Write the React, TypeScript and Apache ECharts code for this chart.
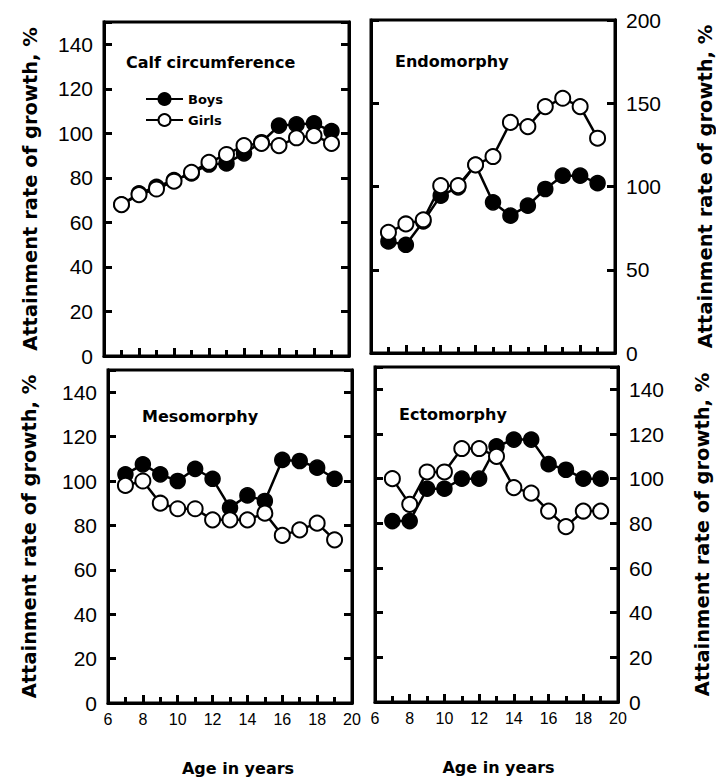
import React, { useEffect, useRef } from "react";
import * as echarts from "echarts";

const ages = [7, 8, 9, 10, 11, 12, 13, 14, 15, 16, 17, 18, 19];

const panelTitles = ["Calf circumference", "Endomorphy", "Mesomorphy", "Ectomorphy"];
const seriesNames = ["Boys", "Girls"];

const calfBoys = [68, 73, 76, 79, 82, 86, 86.5, 91, 96, 103.5, 104, 104.5, 101];
const calfGirls = [68, 72.5, 75, 78.5, 82.5, 87, 90.5, 94.5, 95.5, 94.5, 98, 99, 95.5];
const endoBoys = [67, 65, 79, 94.5, 99.5, 113, 90.5, 82.5, 88.5, 98.5, 106.5, 106.5, 102];
const endoGirls = [72.5, 77.5, 80, 100.5, 100.5, 113, 118, 138.5, 136, 148, 153, 148, 129];
const mesoBoys = [103, 107.5, 103, 100, 105.5, 101, 88, 93.5, 91, 109.5, 109, 106, 101];
const mesoGirls = [98, 100, 90, 87.5, 87.5, 82.5, 82.5, 82.5, 85.5, 75.5, 78, 81, 73.5];
const ectoBoys = [81, 81, 95.5, 95.5, 100, 100, 114.5, 117.5, 117.5, 106.5, 104, 100, 100];
const ectoGirls = [100, 88.5, 103, 103, 113.5, 113.5, 110, 96, 93.5, 85.5, 78.5, 85.5, 85.5];

const xTicks = { min: 6, max: 20, interval: 2 };
const yTicksPct = { min: 0, max: 150, interval: 20 };
const yTicksEndo = { min: 0, max: 200, interval: 50 };

const yAxisName = "Attainment rate of growth, %";
const xAxisName = "Age in years";

const NUM_FONT = "Liberation Sans, Arial, sans-serif";
const BOLD_FONT = "DejaVu Sans, sans-serif";

export default function App() {
  const ref = useRef<HTMLDivElement>(null);
  useEffect(() => {
    if (!ref.current) return;
    const chart = echarts.init(ref.current, null, { renderer: "svg" });

    const grids = [
      { left: 104, top: 22, width: 245, height: 334 },
      { left: 371, top: 20, width: 246, height: 333 },
      { left: 108, top: 370, width: 244, height: 333 },
      { left: 375, top: 367, width: 243, height: 335 },
    ];
    const panelData = [
      [calfBoys, calfGirls],
      [endoBoys, endoGirls],
      [mesoBoys, mesoGirls],
      [ectoBoys, ectoGirls],
    ];
    const scales = [yTicksPct, yTicksEndo, yTicksPct, yTicksPct];
    const labelSide = ["left", "right", "left", "right"];
    const nameGaps = [64, 80, 69, 74];
    const titlePos = [
      { left: 126, top: 54 },
      { left: 395, top: 53 },
      { left: 142, top: 408 },
      { left: 399, top: 406 },
    ];

    const mkTick = (len: number) => ({
      show: true,
      inside: true,
      length: len,
      lineStyle: { color: "#000", width: 3 },
    });
    const mkLine = () => ({ show: true, lineStyle: { color: "#000", width: 3 } });

    const xAxes = grids.map((_, i) => ({
      type: "value",
      gridIndex: i,
      min: xTicks.min,
      max: xTicks.max,
      interval: xTicks.interval,
      axisLine: mkLine(),
      axisTick: mkTick(8),
      minorTick: { show: true, splitNumber: 2, length: 6, lineStyle: { color: "#000", width: 3 } },
      splitLine: { show: false },
      minorSplitLine: { show: false },
      axisLabel: {
        show: i >= 2,
        margin: 8,
        color: "#000",
        fontSize: 16,
        fontFamily: NUM_FONT,
      },
      name: i >= 2 ? xAxisName : "",
      nameLocation: "middle",
      nameGap: 57,
      nameTextStyle: {
        color: "#000",
        fontSize: 16,
        fontWeight: "bold",
        fontFamily: BOLD_FONT,
        padding: i === 2 ? [0, 0, 0, 16] : [0, 0, 0, 4],
      },
    }));

    const yAxes: any[] = [];
    grids.forEach((_, i) => {
      const s = scales[i];
      const side = labelSide[i];
      const other = side === "left" ? "right" : "left";
      // labelled axis (the series scale)
      yAxes.push({
        type: "value",
        gridIndex: i,
        position: side,
        min: s.min,
        max: s.max,
        interval: s.interval,
        axisLine: mkLine(),
        axisTick: { show: false },
        splitLine: { show: false },
        axisLabel: {
          show: true,
          showMaxLabel: s.max % s.interval === 0,
          margin: 11,
          color: "#000",
          fontSize: 21,
          fontFamily: NUM_FONT,
        },
        name: yAxisName,
        nameLocation: "middle",
        nameRotate: 90,
        nameGap: nameGaps[i],
        nameTextStyle: {
          color: "#000",
          fontSize: 19.5,
          fontWeight: "bold",
          fontFamily: BOLD_FONT,
        },
      });
      // tick-only twins on both frame sides
      [side, other].forEach((pos) => {
        yAxes.push({
          type: "value",
          gridIndex: i,
          position: pos,
          offset: 0,
          min: s.min,
          max: s.max,
          interval: s.interval,
          axisLine: mkLine(),
          axisTick: mkTick(8),
          splitLine: { show: false },
          axisLabel: { show: false },
        });
      });
    });

    const series: any[] = [];
    panelData.forEach((pair, i) => {
      pair.forEach((vals, k) => {
        const isBoys = k === 0;
        series.push({
          name: seriesNames[k],
          type: "line",
          xAxisIndex: i,
          yAxisIndex: 3 * i,
          data: ages.map((a, j) => [a, vals[j]]),
          symbol: "circle",
          symbolSize: 15,
          showSymbol: true,
          z: isBoys ? 2 : 3,
          lineStyle: { color: "#000", width: 2.5 },
          itemStyle: isBoys
            ? { color: "#000", borderColor: "#000", borderWidth: 1.5 }
            : { color: "#fff", borderColor: "#000", borderWidth: 2 },
        });
      });
    });

    chart.setOption({
      animation: false,
      backgroundColor: "#fff",
      title: panelTitles.map((t, i) => ({
        text: t,
        left: titlePos[i].left,
        top: titlePos[i].top,
        padding: 0,
        textStyle: {
          color: "#000",
          fontSize: 16,
          fontWeight: "bold",
          fontFamily: BOLD_FONT,
        },
      })),
      legend: {
        data: seriesNames,
        left: 145,
        top: 92,
        orient: "vertical",
        itemWidth: 37,
        itemHeight: 15,
        itemGap: 7,
        padding: 0,
        selectedMode: false,
        textStyle: {
          color: "#000",
          fontSize: 13,
          fontWeight: "bold",
          fontFamily: BOLD_FONT,
        },
      },
      grid: grids.map((g) => ({
        ...g,
        show: true,
        borderColor: "#000",
        borderWidth: 3,
      })),
      xAxis: xAxes,
      yAxis: yAxes,
      series,
    });
    return () => chart.dispose();
  }, []);
  return (
    <div
      ref={ref}
      style={{ position: "fixed", left: 0, top: 0, width: 716, height: 783, background: "#fff" }}
    />
  );
}
